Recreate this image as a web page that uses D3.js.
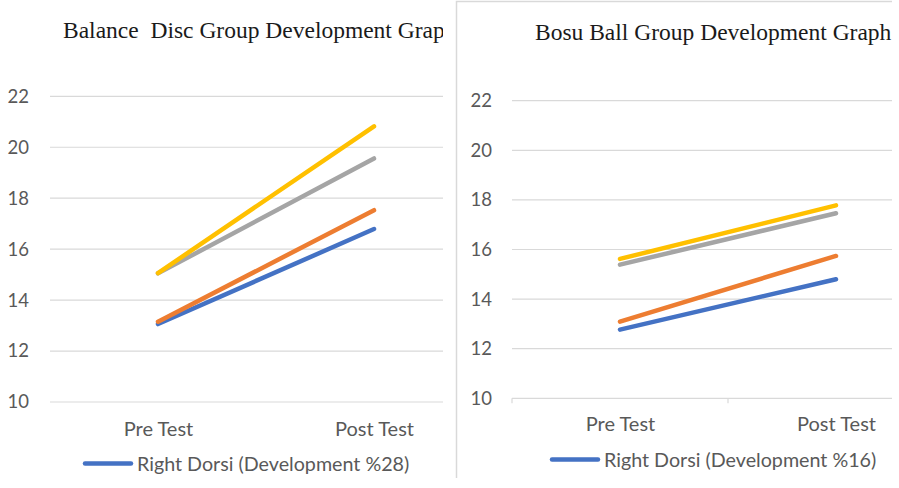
<!DOCTYPE html>
<html>
<head>
<meta charset="utf-8">
<script src="https://cdn.jsdelivr.net/npm/d3@7"></script>
<style>
  body { margin: 0; background: #fff; }
  svg { display: block; }
</style>
</head>
<body>
<div id="chart"></div>
<script>
// values
const categories = ["Pre Test", "Post Test"];
const yTicks = [10, 12, 14, 16, 18, 20, 22];
const seriesColors = ["#4472C4", "#ED7D31", "#A5A5A5", "#FFC000"];

const discBlue = [13.06, 16.79];
const discOrange = [13.15, 17.53];
const discGray = [15.05, 19.56];
const discYellow = [15.06, 20.82];

const bosuBlue = [12.77, 14.80];
const bosuOrange = [13.09, 15.74];
const bosuGray = [15.39, 17.46];
const bosuYellow = [15.62, 17.78];

const discTitle = "Balance  Disc Group Development Graph";
const bosuTitle = "Bosu Ball Group Development Graph";
const discLegend = "Right Dorsi (Development %28)";
const bosuLegend = "Right Dorsi (Development %16)";

const W = 899, H = 488;
const svg = d3.select("#chart").append("svg").attr("width", W).attr("height", H);
const defs = svg.append("defs");

function drawPanel(p) {
  defs.append("clipPath").attr("id", p.id)
    .append("rect").attr("x", p.clip[0]).attr("y", p.clip[1])
    .attr("width", p.clip[2]).attr("height", p.clip[3]);

  const g = svg.append("g").attr("clip-path", `url(#${p.id})`);

  const x = d3.scalePoint().domain(categories).range(p.xRange).padding(0.5);
  const y = d3.scaleLinear().domain([10, 22]).range(p.yRange);

  g.append("text")
    .attr("x", p.titleX).attr("y", p.titleY)
    .attr("font-family", "'Liberation Serif', serif")
    .attr("font-size", 23.5)
    .attr("fill", "#1a1a1a")
    .style("white-space", "pre")
    .text(p.title);

  // gridlines
  g.append("g").selectAll("line").data(yTicks).join("line")
    .attr("x1", p.xRange[0]).attr("x2", p.xRange[1])
    .attr("y1", d => y(d)).attr("y2", d => y(d))
    .attr("stroke", "#d9d9d9").attr("stroke-width", 1.2);

  const yAxis = g.append("g")
    .attr("transform", `translate(${p.xRange[0]},0)`)
    .call(d3.axisLeft(y).tickValues(yTicks).tickSize(0).tickPadding(p.tickPad));
  yAxis.select(".domain").remove();
  yAxis.selectAll("text")
    .attr("font-family", "Lato, sans-serif").attr("font-size", 18.5).attr("fill", "#595959");

  if (p.catTicks) {
    const xt = [p.xRange[0], (p.xRange[0] + p.xRange[1]) / 2];
    g.append("g").selectAll("line").data(xt).join("line")
      .attr("x1", d => d).attr("x2", d => d)
      .attr("y1", y(10)).attr("y2", y(10) + 5)
      .attr("stroke", "#d9d9d9").attr("stroke-width", 1.2);
  }

  const xAxis = g.append("g")
    .attr("transform", `translate(0,${y(10)})`)
    .call(d3.axisBottom(x).tickSize(0).tickPadding(p.catPad));
  xAxis.select(".domain").remove();
  xAxis.selectAll("text")
    .attr("font-family", "Lato, sans-serif").attr("font-size", 20).attr("fill", "#595959");

  const line = d3.line().x((d, i) => x(categories[i])).y(d => y(d));
  g.append("g").selectAll("path").data(p.series).join("path")
    .attr("d", d => line(d))
    .attr("fill", "none")
    .attr("stroke", (d, i) => seriesColors[i])
    .attr("stroke-width", 4.5)
    .attr("stroke-linecap", "round");

  // legend, only the first entry shows inside the crop
  const lg = g.append("g").attr("transform", `translate(${p.legendX},${p.legendY})`);
  lg.append("line").attr("x1", 0).attr("x2", 46).attr("y1", 0).attr("y2", 0)
    .attr("stroke", seriesColors[0]).attr("stroke-width", 4.5).attr("stroke-linecap", "round");
  lg.append("text").attr("x", 52).attr("y", 7)
    .attr("font-family", "Lato, sans-serif").attr("font-size", 19.7).attr("fill", "#595959")
    .text(p.legend);
}

drawPanel({
  id: "clipDisc", clip: [0, 0, 443, H],
  xRange: [50, 482], yRange: [402, 96.3],
  title: discTitle, titleX: 63, titleY: 38,
  series: [discBlue, discOrange, discGray, discYellow],
  tickPad: 21, catPad: 20, catTicks: false,
  legend: discLegend, legendX: 85, legendY: 463.5
});

drawPanel({
  id: "clipBosu", clip: [457, 2, 435, 476],
  xRange: [512, 944], yRange: [398.3, 100.7],
  title: bosuTitle, titleX: 535, titleY: 40,
  series: [bosuBlue, bosuOrange, bosuGray, bosuYellow],
  tickPad: 20, catPad: 19, catTicks: true,
  legend: bosuLegend, legendX: 552, legendY: 459.5
});

// panel border of the right chart
svg.append("path")
  .attr("d", "M456.5,478 V1.5 H892")
  .attr("fill", "none").attr("stroke", "#d9d9d9").attr("stroke-width", 1.5);
</script>
</body>
</html>
